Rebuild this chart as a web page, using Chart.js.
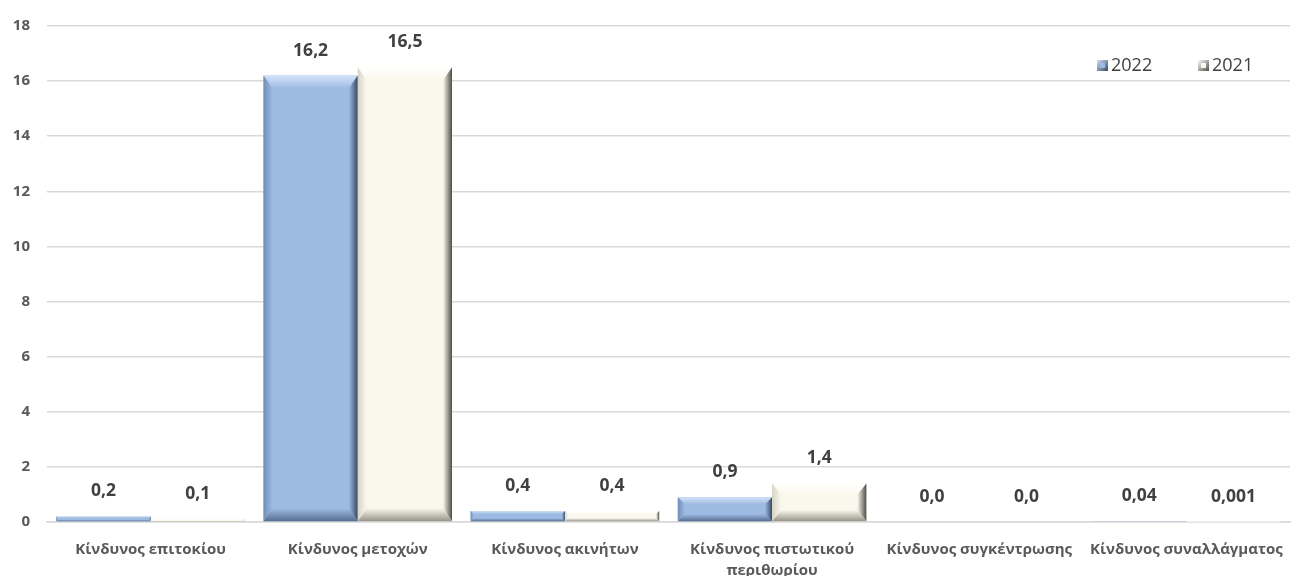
<!DOCTYPE html>
<html>
<head>
<meta charset="utf-8">
<script src="https://cdn.jsdelivr.net/npm/chart.js@4/dist/chart.umd.min.js"></script>
<style>
  html, body { margin: 0; padding: 0; background: #fff; }
  #wrap { width: 1300px; height: 576px; }
</style>
</head>
<body>
<div id="wrap"><canvas id="myChart" width="1300" height="576"></canvas></div>
<script>
const categories = [
  'Κίνδυνος επιτοκίου',
  'Κίνδυνος μετοχών',
  'Κίνδυνος ακινήτων',
  ['Κίνδυνος πιστωτικού', 'περιθωρίου'],
  'Κίνδυνος συγκέντρωσης',
  'Κίνδυνος συναλλάγματος'
];
const values2022 = [0.2, 16.2, 0.4, 0.9, 0.0, 0.04];
const values2021 = [0.1, 16.5, 0.4, 1.4, 0.0, 0.001];
const labels2022 = ['0,2', '16,2', '0,4', '0,9', '0,0', '0,04'];
const labels2021 = ['0,1', '16,5', '0,4', '1,4', '0,0', '0,001'];

const FONT = "'Open Sans', 'Noto Sans', sans-serif";

function grad(ctx, x0, y0, x1, y1, c0, c1) {
  const g = ctx.createLinearGradient(x0, y0, x1, y1);
  g.addColorStop(0, c0);
  g.addColorStop(1, c1);
  return g;
}

// bevelled look for the bars, drawn over each bar element
const bevelPlugin = {
  id: 'bevel',
  afterDatasetsDraw(chart) {
    const ctx = chart.ctx;
    chart.data.datasets.forEach((ds, di) => {
      const meta = chart.getDatasetMeta(di);
      meta.data.forEach(bar => {
        const left = bar.x - bar.width / 2, right = bar.x + bar.width / 2;
        const top = bar.y, bottom = bar.base;
        const h = bottom - top;
        if (h < 1) return;
        const b = Math.min(13, h * 0.3);
        const bs = Math.min(9, h * 0.3);
        ctx.save();
        // top edge - light
        ctx.fillStyle = grad(ctx, 0, top, 0, top + b, ds.bevelLight, ds.backgroundColor);
        ctx.beginPath();
        ctx.moveTo(left, top); ctx.lineTo(right, top);
        ctx.lineTo(right - bs, top + b); ctx.lineTo(left + bs, top + b);
        ctx.closePath(); ctx.fill();
        // left edge
        ctx.fillStyle = grad(ctx, left, 0, left + bs, 0, ds.bevelLeft, ds.backgroundColor);
        ctx.beginPath();
        ctx.moveTo(left, top); ctx.lineTo(left + bs, top + b);
        ctx.lineTo(left + bs, bottom - b); ctx.lineTo(left, bottom);
        ctx.closePath(); ctx.fill();
        // right edge - dark
        ctx.fillStyle = grad(ctx, right - bs, 0, right, 0, ds.backgroundColor, ds.bevelDark);
        ctx.beginPath();
        ctx.moveTo(right, top); ctx.lineTo(right, bottom);
        ctx.lineTo(right - bs, bottom - b); ctx.lineTo(right - bs, top + b);
        ctx.closePath(); ctx.fill();
        // bottom edge
        ctx.fillStyle = grad(ctx, 0, bottom - b, 0, bottom, ds.backgroundColor, ds.bevelBottom);
        ctx.beginPath();
        ctx.moveTo(left, bottom); ctx.lineTo(right, bottom);
        ctx.lineTo(right - bs, bottom - b); ctx.lineTo(left + bs, bottom - b);
        ctx.closePath(); ctx.fill();
        ctx.restore();
      });
    });
  }
};

// value labels above the bars
const valueLabels = {
  id: 'valueLabels',
  afterDatasetsDraw(chart) {
    const ctx = chart.ctx;
    ctx.save();
    ctx.font = "bold 17.5px " + FONT;
    ctx.fillStyle = '#404040';
    ctx.textAlign = 'center';
    ctx.textBaseline = 'middle';
    chart.data.datasets.forEach((ds, di) => {
      chart.getDatasetMeta(di).data.forEach((bar, i) => {
        ctx.fillText(ds.valueText[i], bar.x, bar.y - 25);
      });
    });
    ctx.restore();
  }
};

// legend in the top right corner of the plot area
const cornerLegend = {
  id: 'cornerLegend',
  afterDraw(chart) {
    const ctx = chart.ctx;
    const area = chart.chartArea;
    const y = area.top + 39;
    let x = area.right - 193;
    ctx.save();
    ctx.font = "18px " + FONT;
    ctx.textBaseline = 'middle';
    chart.data.datasets.forEach(ds => {
      ctx.fillStyle = grad(ctx, x, y - 5, x + 11, y + 6, ds.bevelLight, ds.bevelDark);
      ctx.fillRect(x, y - 5, 11, 11);
      ctx.fillStyle = ds.backgroundColor;
      ctx.fillRect(x + 3, y - 2, 5, 5);
      ctx.fillStyle = '#404040';
      ctx.fillText(ds.label, x + 14, y + 1);
      x += 101;
    });
    ctx.restore();
  }
};

new Chart(document.getElementById('myChart').getContext('2d'), {
  type: 'bar',
  data: {
    labels: categories,
    datasets: [{
      label: '2022',
      data: values2022,
      valueText: labels2022,
      backgroundColor: '#9dbbe2',
      bevelLight: '#d3e3f8',
      bevelLeft: '#6f8db6',
      bevelDark: '#384860',
      bevelBottom: '#566d90'
    }, {
      label: '2021',
      data: values2021,
      valueText: labels2021,
      backgroundColor: '#faf8ec',
      bevelLight: '#ffffff',
      bevelLeft: '#d6d4c6',
      bevelDark: '#4e4d48',
      bevelBottom: '#96948a'
    }]
  },
  options: {
    responsive: false,
    animation: false,
    layout: { padding: { top: 7, right: 10, left: 0, bottom: 0 } },
    datasets: {
      bar: { categoryPercentage: 0.91, barPercentage: 1.0 }
    },
    scales: {
      y: {
        min: 0, max: 18,
        afterFit(scale) { scale.width = 47; },
        ticks: { stepSize: 2, color: '#595959', font: { family: FONT, size: 15, weight: 'bold' }, padding: 17 },
        grid: { color: '#d9d9d9', lineWidth: 1.5, drawTicks: false },
        border: { display: false }
      },
      x: {
        afterFit(scale) { scale.height = 54; },
        ticks: { color: '#595959', font: { family: FONT, size: 15, weight: 'bold', lineHeight: 1.35 }, maxRotation: 0, padding: 10 },
        grid: { display: false },
        border: { color: '#d9d9d9', width: 1.5 }
      }
    },
    plugins: {
      legend: { display: false },
      tooltip: { enabled: false }
    }
  },
  plugins: [bevelPlugin, valueLabels, cornerLegend]
});
</script>
</body>
</html>
